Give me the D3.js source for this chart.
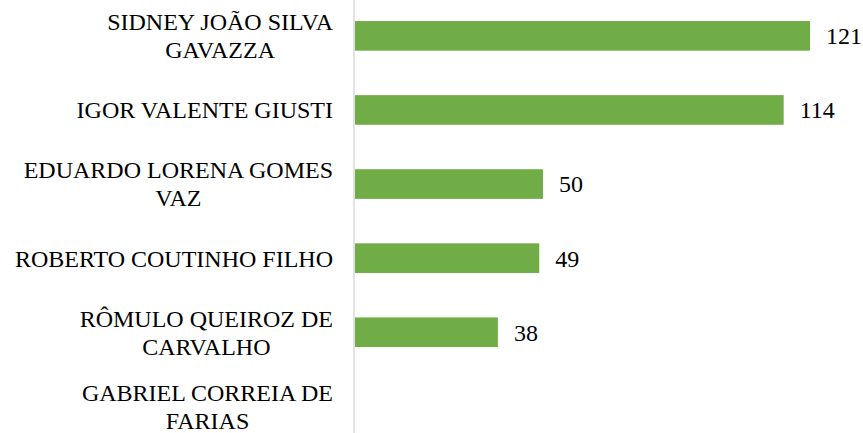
<!DOCTYPE html>
<html>
<head>
<meta charset="utf-8">
<script src="https://cdn.jsdelivr.net/npm/d3@7"></script>
<style>
  body { margin: 0; background: #fff; }
  svg text { font-size: 24px; fill: #000; }
</style>
</head>
<body>
<svg id="chart" width="863" height="433"></svg>
<script>
// data
const names = [
  "SIDNEY JOÃO SILVA GAVAZZA",
  "IGOR VALENTE GIUSTI",
  "EDUARDO LORENA GOMES VAZ",
  "ROBERTO COUTINHO FILHO",
  "RÔMULO QUEIROZ DE CARVALHO",
  "GABRIEL CORREIA DE FARIAS"
];
const values = [121, 114, 50, 49, 38, 0];

const fontFam = "'Times New Roman', Times, 'Liberation Serif', serif";

const svg = d3.select("#chart");
const axisX = 354;
const labelRight = 333;
const maxLabelW = 330;

const x = d3.scaleLinear()
  .domain([0, 121])
  .range([axisX + 1, 810]);

const y = d3.scaleBand()
  .domain(names)
  .range([-1.2, 443.4])
  .paddingInner(0.6)
  .paddingOuter(0.3);

const rows = values.map((v, i) => ({ name: names[i], value: v })).filter(d => d.value > 0);

// bars
svg.selectAll("rect.bar")
  .data(rows)
  .enter().append("rect")
    .attr("class", "bar")
    .attr("x", x(0))
    .attr("y", d => y(d.name))
    .attr("width", d => x(d.value) - x(0))
    .attr("height", y.bandwidth())
    .attr("fill", "#70ad47");

// value labels
svg.selectAll("text.val")
  .data(rows)
  .enter().append("text")
    .attr("class", "val")
    .attr("font-family", fontFam)
    .attr("x", d => x(d.value) + 16)
    .attr("y", d => y(d.name) + y.bandwidth() / 2)
    .attr("dy", "0.35em")
    .text(d => d.value);

// axis line
svg.append("line")
  .attr("x1", axisX).attr("x2", axisX)
  .attr("y1", 0).attr("y2", 433)
  .attr("stroke", "#d9d9d9")
  .attr("stroke-width", 1.5);

// category labels, wrapped by width
const lineH = 28;
names.forEach(name => {
  const g = svg.append("text").attr("text-anchor", "middle").attr("font-family", fontFam);
  const words = name.split(" ");
  const lines = [];
  let cur = [];
  const probe = svg.append("text").attr("font-family", fontFam);
  words.forEach(w => {
    const test = cur.concat([w]).join(" ");
    probe.text(test);
    if (cur.length && probe.node().getComputedTextLength() > maxLabelW) {
      lines.push(cur.join(" "));
      cur = [w];
    } else {
      cur.push(w);
    }
  });
  lines.push(cur.join(" "));
  let maxW = 0;
  lines.forEach(l => {
    probe.text(l);
    maxW = Math.max(maxW, probe.node().getComputedTextLength());
  });
  probe.remove();

  const cx = labelRight - maxW / 2;
  const cy = y(name) + y.bandwidth() / 2;
  const top = cy - (lines.length - 1) * lineH / 2;
  lines.forEach((l, i) => {
    g.append("tspan")
      .attr("x", cx)
      .attr("y", top + i * lineH)
      .attr("dy", "0.35em")
      .text(l);
  });
});
</script>
</body>
</html>
